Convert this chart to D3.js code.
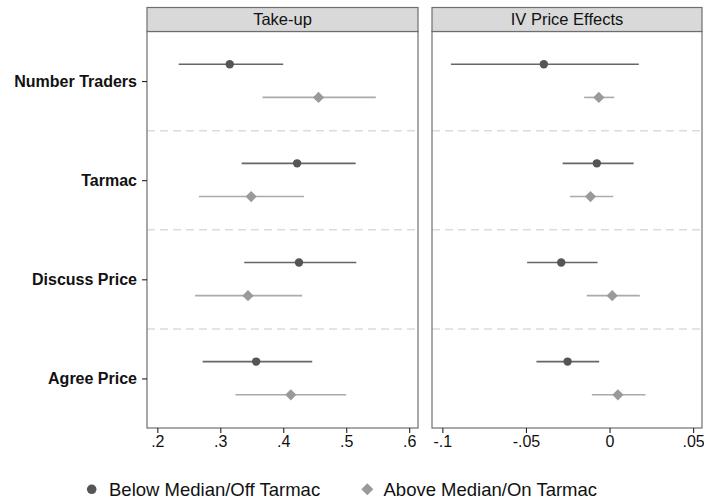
<!DOCTYPE html>
<html>
<head>
<meta charset="utf-8">
<script src="https://cdn.jsdelivr.net/npm/d3@7/dist/d3.min.js"></script>
<style>
  html, body { margin: 0; padding: 0; background: #fff; }
  svg { display: block; font-family: "Liberation Sans", Arial, Helvetica, sans-serif; }
</style>
</head>
<body>
<svg id="chart" width="704" height="502"></svg>
<script>
// Outcome rows, top to bottom
const categories = ["Number Traders", "Tarmac", "Discuss Price", "Agree Price"];
const groups = ["Below Median/Off Tarmac", "Above Median/On Tarmac"];
const panels = ["Take-up", "IV Price Effects"];

// Take-up: point estimates and 95% CI bounds
const takeupBelow = [0.315, 0.422, 0.425, 0.357];
const takeupBelowLo = [0.234, 0.334, 0.338, 0.272];
const takeupBelowHi = [0.400, 0.515, 0.516, 0.446];
const takeupAbove = [0.456, 0.349, 0.344, 0.412];
const takeupAboveLo = [0.367, 0.266, 0.260, 0.324];
const takeupAboveHi = [0.547, 0.433, 0.430, 0.500];

// IV price effects: point estimates and 95% CI bounds
const ivBelow = [-0.0393, -0.0076, -0.0289, -0.0251];
const ivBelowLo = [-0.0949, -0.0281, -0.0493, -0.0437];
const ivBelowHi = [0.0175, 0.0144, -0.0072, -0.0062];
const ivAbove = [-0.0064, -0.0114, 0.0016, 0.0050];
const ivAboveLo = [-0.0152, -0.0237, -0.0136, -0.0106];
const ivAboveHi = [0.0028, 0.0022, 0.0181, 0.0215];

// Tick labels for each panel
const takeupTicks = [0.2, 0.3, 0.4, 0.5, 0.6];
const takeupTickLabels = [".2", ".3", ".4", ".5", ".6"];
const ivTicks = [-0.1, -0.05, 0, 0.05];
const ivTickLabels = ["-.1", "-.05", "0", ".05"];

const svg = d3.select("#chart");

const frameColor = "#6e6e6e";
const darkMarker = "#555555", darkLine = "#666666";
const lightMarker = "#9a9a9a", lightLine = "#aaaaaa";

const plotTop = 31.5, plotBottom = 428, stripTop = 7.5;
const y = d3.scaleLinear().domain([-0.5, 3.5]).range([plotTop, plotBottom]);
const offBelow = -0.17, offAbove = 0.165;

const panelDefs = [
  {
    title: panels[0], left: 147, right: 418,
    domain: [0.1836, 0.614], ticks: takeupTicks, labels: takeupTickLabels,
    below: [takeupBelow, takeupBelowLo, takeupBelowHi],
    above: [takeupAbove, takeupAboveLo, takeupAboveHi]
  },
  {
    title: panels[1], left: 432, right: 702,
    domain: [-0.1062, 0.0553], ticks: ivTicks, labels: ivTickLabels,
    below: [ivBelow, ivBelowLo, ivBelowHi],
    above: [ivAbove, ivAboveLo, ivAboveHi]
  }
];

panelDefs.forEach((p, pi) => {
  const x = d3.scaleLinear().domain(p.domain).range([p.left, p.right]);
  const g = svg.append("g");

  // dashed separators between rows
  g.selectAll("line.sep").data([0.5, 1.5, 2.5]).enter().append("line")
    .attr("x1", p.left).attr("x2", p.right)
    .attr("y1", d => y(d)).attr("y2", d => y(d))
    .attr("stroke", "#dcdcdc").attr("stroke-width", 1.5)
    .attr("stroke-dasharray", "8,5");

  // series: CI line + marker
  const series = [
    { vals: p.below, off: offBelow, line: darkLine, fill: darkMarker, shape: "circle" },
    { vals: p.above, off: offAbove, line: lightLine, fill: lightMarker, shape: "diamond" }
  ];
  series.forEach(s => {
    const rows = categories.map((c, i) => ({ c, i, est: s.vals[0][i], lo: s.vals[1][i], hi: s.vals[2][i] }));
    g.selectAll(null).data(rows).enter().append("line")
      .attr("x1", d => x(d.lo)).attr("x2", d => x(d.hi))
      .attr("y1", d => y(d.i + s.off)).attr("y2", d => y(d.i + s.off))
      .attr("stroke", s.line).attr("stroke-width", 1.6);
    if (s.shape === "circle") {
      g.selectAll(null).data(rows).enter().append("circle")
        .attr("cx", d => x(d.est)).attr("cy", d => y(d.i + s.off))
        .attr("r", 4.2).attr("fill", s.fill);
    } else {
      g.selectAll(null).data(rows).enter().append("path")
        .attr("transform", d => `translate(${x(d.est)},${y(d.i + s.off)})`)
        .attr("d", "M0,-5.6L5.6,0L0,5.6L-5.6,0Z")
        .attr("fill", s.fill);
    }
  });

  // panel frame
  g.append("rect")
    .attr("x", p.left).attr("y", plotTop)
    .attr("width", p.right - p.left).attr("height", plotBottom - plotTop)
    .attr("fill", "none").attr("stroke", frameColor).attr("stroke-width", 1.2);

  // strip header
  g.append("rect")
    .attr("x", p.left).attr("y", stripTop)
    .attr("width", p.right - p.left).attr("height", plotTop - stripTop)
    .attr("fill", "#d9d9d9").attr("stroke", frameColor).attr("stroke-width", 1.2);
  g.append("text")
    .attr("x", (p.left + p.right) / 2).attr("y", plotTop - 6.5)
    .attr("text-anchor", "middle").attr("font-size", 16.5).attr("fill", "#111")
    .text(p.title);

  // x axis
  const xAxis = d3.axisBottom(x).tickValues(p.ticks)
    .tickFormat((d, i) => p.labels[i]).tickSize(5).tickPadding(3);
  const ax = g.append("g").attr("transform", `translate(0,${plotBottom})`).call(xAxis);
  ax.select(".domain").remove();
  ax.selectAll(".tick line").attr("stroke", "#222").attr("stroke-width", 1.1);
  ax.selectAll(".tick text").attr("font-size", 16).attr("fill", "#111")
    .attr("font-family", "Liberation Sans, Arial, sans-serif");

  // y axis on left panel only
  if (pi === 0) {
    const yAxis = d3.axisLeft(y).tickValues([0, 1, 2, 3])
      .tickFormat(i => categories[i]).tickSize(5).tickPadding(5);
    const ay = g.append("g").attr("transform", `translate(${p.left},0)`).call(yAxis);
    ay.select(".domain").remove();
    ay.selectAll(".tick line").attr("stroke", "#222").attr("stroke-width", 1.1);
    ay.selectAll(".tick text").attr("font-size", 16).attr("font-weight", "bold")
      .attr("fill", "#111").attr("font-family", "Liberation Sans, Arial, sans-serif");
  }
});

// legend
const legend = svg.append("g");
const legendItems = [
  { label: groups[0], mx: 91.7, tx: 109, shape: "circle", fill: darkMarker },
  { label: groups[1], mx: 367.3, tx: 383.5, shape: "diamond", fill: lightMarker }
];
const ly = 489.3;
legendItems.forEach(it => {
  if (it.shape === "circle") {
    legend.append("circle").attr("cx", it.mx).attr("cy", ly).attr("r", 4.8).attr("fill", it.fill);
  } else {
    legend.append("path").attr("transform", `translate(${it.mx},${ly})`)
      .attr("d", "M0,-6L6,0L0,6L-6,0Z").attr("fill", it.fill);
  }
  legend.append("text").attr("x", it.tx).attr("y", ly + 6.6)
    .attr("font-size", 18.5).attr("fill", "#111").text(it.label);
});
</script>
</body>
</html>
